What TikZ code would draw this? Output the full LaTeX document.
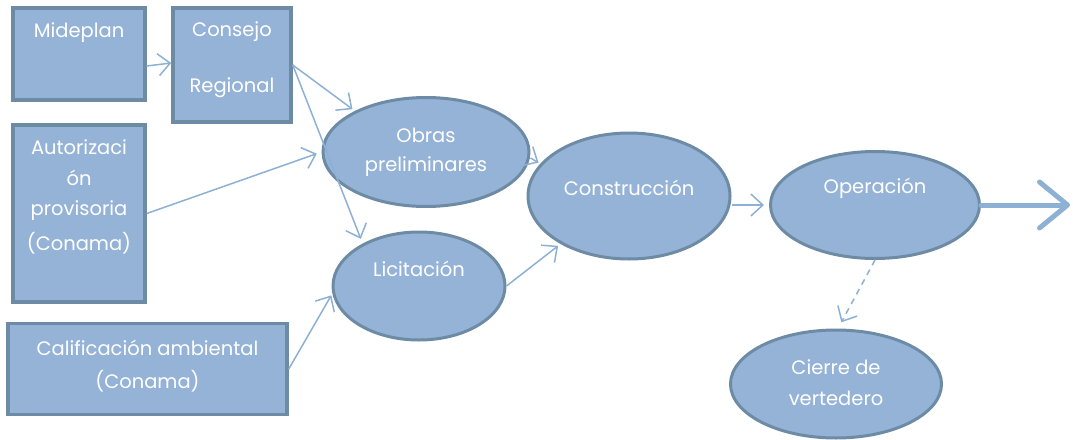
\documentclass[tikz,border=0pt]{standalone}
\usepackage{fontspec}
\setmainfont{Poppins}
\usetikzlibrary{arrows.meta,shapes.geometric}
\definecolor{fillb}{HTML}{95B3D7}
\definecolor{edgeb}{HTML}{6E8BA5}
\definecolor{arrb}{HTML}{8DB0D5}
\tikzset{
  boxnode/.style={draw=edgeb, fill=fillb, line width=3.5pt, rectangle, inner sep=0pt},
  ellnode/.style={draw=edgeb, fill=fillb, line width=3pt, ellipse, inner sep=0pt},
  txt/.style={text=white, font=\fontsize{19.5}{23}\selectfont, inner sep=0pt, align=center},
  conn/.style={draw=arrb, line width=1.5pt, -{Straight Barb[length=12pt,width=22pt,line width=1.5pt]}},
  bigconn/.style={draw=arrb, line width=5pt, line cap=round, -{Straight Barb[length=28pt,width=46pt,line width=5pt,round]}},
}
\begin{document}
\begin{tikzpicture}[x=1pt,y=-1pt]
\useasboundingbox (0,0) rectangle (1073,439);
% boxes
\node[boxnode, minimum width=132pt, minimum height=92pt] (mide) at (79,54) {};
\node[boxnode, minimum width=118pt, minimum height=114pt] (cons) at (232,65) {};
\node[boxnode, minimum width=132pt, minimum height=177pt] (auto) at (79,213.5) {};
\node[boxnode, minimum width=279pt, minimum height=91pt] (calif) at (147.5,369) {};
% ellipses
\node[ellnode, minimum width=206pt, minimum height=109pt] (obras) at (426,152) {};
\node[ellnode, minimum width=172pt, minimum height=108pt] (lic) at (419,286) {};
\node[ellnode, minimum width=202pt, minimum height=126pt] (const) at (629,196) {};
\node[ellnode, minimum width=209pt, minimum height=107pt] (oper) at (875,205) {};
\node[ellnode, minimum width=211pt, minimum height=108pt] (cierre) at (836,384) {};
% labels
\node[txt] (tmide) at (79,33) {Mideplan};
\node[txt] (tcons1) at (232,32) {Consejo};
\node[txt] (tcons2) at (232,88) {Regional};
\node[txt] (tauto1) at (79,147) {Autorizaci};
\node[txt] (tauto2) at (79,178) {ón};
\node[txt] (tauto3) at (79,211) {provisoria};
\node[txt] (tauto4) at (79,243) {(Conama)};
\node[txt] (tcal1) at (147.5,348) {Calificación ambiental};
\node[txt] (tcal2) at (147.5,381) {(Conama)};
\node[txt] (tobr1) at (426,135) {Obras};
\node[txt] (tobr2) at (426,167) {preliminares};
\node[txt] (tlic) at (419,269) {Licitación};
\node[txt] (tcon) at (629,188) {Construcción};
\node[txt] (tope) at (875,188) {Operación};
\node[txt] (tcie1) at (836,367) {Cierre de};
\node[txt] (tcie2) at (836,398) {vertedero};
\coordinate (out) at (1070,205);
% connectors
\draw[conn] ([yshift=-12pt]mide.east) -- ([yshift=2pt]cons.west);
\draw[conn, shorten >=3pt] (cons.east) -- (obras.150);
\draw[conn, shorten >=5pt] (cons.east) -- (lic.143);
\draw[conn, shorten >=5pt] (auto.east) -- (obras.west);
\draw[conn, shorten >=2pt] (calif.east) -- (lic.185);
\draw[conn, shorten >=2pt] ([yshift=-6pt]obras.east) -- (const.160);
\draw[conn, shorten >=3pt] (lic.east) -- (const.215);
\draw[conn, shorten >=5pt] ([yshift=-9pt]const.east) -- (oper.west);
\draw[bigconn] (oper.east) -- (out);
\draw[conn, dashed, dash pattern=on 6pt off 5pt, shorten >=7pt] (oper.south) -- ([xshift=2pt]cierre.north);
\end{tikzpicture}
\end{document}
